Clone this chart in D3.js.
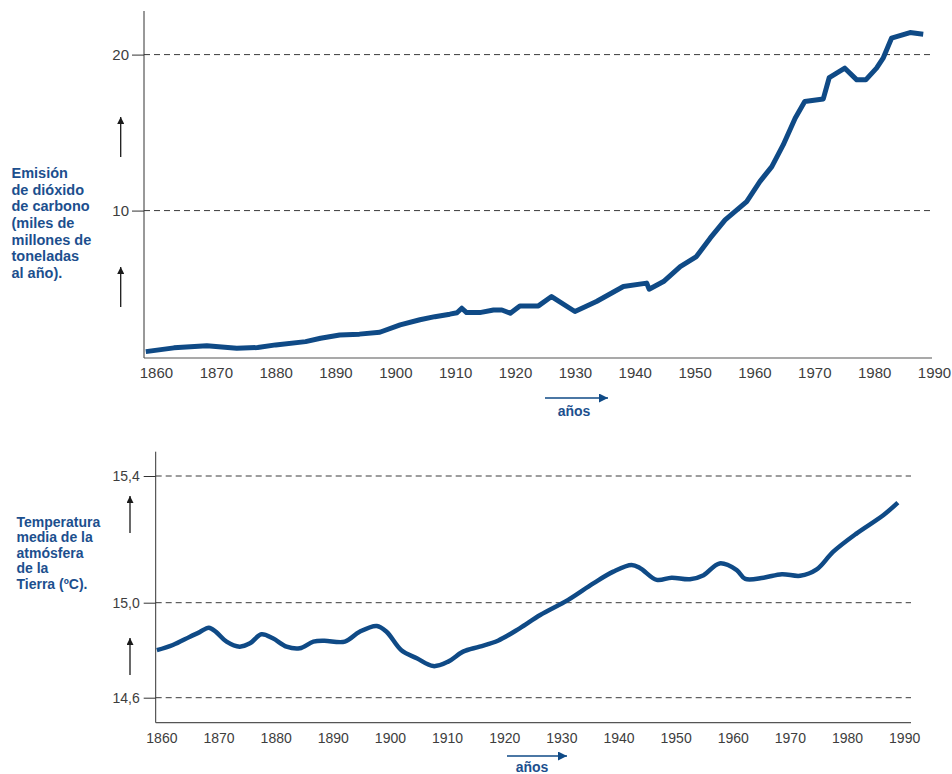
<!DOCTYPE html>
<html>
<head>
<meta charset="utf-8">
<script src="https://cdn.jsdelivr.net/npm/d3@7"></script>
<style>
  html, body { margin: 0; padding: 0; background: #ffffff; }
  svg { display: block; font-family: "Liberation Sans", Arial, Helvetica, sans-serif; }
</style>
</head>
<body>
<svg id="chart" width="952" height="774"></svg>
<script>
// ---------- DATA ----------
const co2Years = [1858.3, 1863, 1868.5, 1873.5, 1877, 1880, 1885, 1887.5, 1890.7, 1894, 1897.4, 1900.8, 1904.1, 1906.6, 1909.1, 1910.3, 1911.1, 1911.9, 1914.1, 1916.4, 1917.8, 1919.2, 1920.8, 1923.9, 1926.1, 1930, 1933.6, 1938.1, 1942, 1942.4, 1944.8, 1947.6, 1950.3, 1952.6, 1955.1, 1958.7, 1960.9, 1962.9, 1964.8, 1966.8, 1968.4, 1971.5, 1972.5, 1975.1, 1977.1, 1978.6, 1980.4, 1981.5, 1982.9, 1986, 1988.2];
const co2Values = [0.96, 1.2, 1.33, 1.18, 1.22, 1.39, 1.6, 1.82, 2.03, 2.08, 2.2, 2.67, 3.0, 3.2, 3.36, 3.45, 3.74, 3.46, 3.46, 3.63, 3.63, 3.42, 3.89, 3.89, 4.49, 3.53, 4.17, 5.13, 5.35, 4.96, 5.45, 6.41, 7.05, 8.23, 9.4, 10.58, 11.86, 12.82, 14.21, 15.92, 16.99, 17.16, 18.53, 19.13, 18.38, 18.38, 19.13, 19.77, 21.05, 21.41, 21.31];

const tempYears = [1859.2, 1862, 1865, 1866.7, 1868.3, 1869.6, 1871.4, 1873.7, 1875.5, 1877.5, 1879.5, 1881.9, 1884.2, 1886.6, 1888.5, 1892.1, 1894.7, 1897.7, 1899.4, 1902, 1904.7, 1907.6, 1910.2, 1912.8, 1915.7, 1918.9, 1922.7, 1926.3, 1931.2, 1935.6, 1939.1, 1942.3, 1943.8, 1946.7, 1949.3, 1952.5, 1954.9, 1957.7, 1960.7, 1962.2, 1965.4, 1968.6, 1971.8, 1974.7, 1977.6, 1981.7, 1986.4, 1988.9];
const tempValues = [14.80, 14.822, 14.857, 14.876, 14.895, 14.876, 14.836, 14.815, 14.829, 14.867, 14.85, 14.815, 14.808, 14.836, 14.84, 14.836, 14.878, 14.902, 14.878, 14.80, 14.766, 14.733, 14.752, 14.794, 14.815, 14.84, 14.892, 14.948, 15.009, 15.061, 15.098, 15.119, 15.109, 15.072, 15.079, 15.074, 15.087, 15.124, 15.103, 15.075, 15.079, 15.09, 15.085, 15.105, 15.161, 15.219, 15.277, 15.316];

const yearTicks = [1860, 1870, 1880, 1890, 1900, 1910, 1920, 1930, 1940, 1950, 1960, 1970, 1980, 1990];
const co2Ticks = [10, 20];
const co2TickLabels = ["10", "20"];
const tempTicks = [14.6, 15.0, 15.4];
const tempTickLabels = ["14,6", "15,0", "15,4"];

const co2Label = ["Emisión", "de dióxido", "de carbono", "(miles de", "millones de", "toneladas", "al año)."];
const tempLabel = ["Temperatura", "media de la", "atmósfera", "de la", "Tierra (ºC)."];
const xLabel = "años";

// ---------- STYLE ----------
const LINE_BLUE = "#0f4a86";
const TEXT_BLUE = "#1c4f8e";
const TICK_GREY = "#3d3d3d";

const svg = d3.select("#chart");

// arrow markers
const defs = svg.append("defs");
defs.append("marker").attr("id", "headDark")
  .attr("viewBox", "0 0 10 10").attr("refX", 10).attr("refY", 5)
  .attr("markerWidth", 7).attr("markerHeight", 7).attr("markerUnits", "userSpaceOnUse")
  .attr("orient", "auto")
  .append("path").attr("d", "M0,0 L10,5 L0,10 Z").attr("fill", "#1a1a1a");
defs.append("marker").attr("id", "headBlue")
  .attr("viewBox", "0 0 10 10").attr("refX", 10).attr("refY", 5)
  .attr("markerWidth", 9).attr("markerHeight", 9).attr("markerUnits", "userSpaceOnUse")
  .attr("orient", "auto")
  .append("path").attr("d", "M0,0 L10,5 L0,10 Z").attr("fill", LINE_BLUE);

function drawPanel(cfg) {
  const g = svg.append("g");
  const x = cfg.x, y = cfg.y;

  // dashed gridlines
  g.selectAll(".grid").data(cfg.ticks).enter().append("line")
    .attr("x1", cfg.axisX).attr("x2", cfg.gridEnd)
    .attr("y1", d => y(d)).attr("y2", d => y(d))
    .attr("stroke", "#3a3a3a").attr("stroke-width", 1)
    .attr("stroke-dasharray", "6,4");

  // y axis
  const yAxis = d3.axisLeft(y).tickValues(cfg.ticks)
    .tickFormat((d, i) => cfg.tickLabels[i])
    .tickSizeInner(cfg.tickSize).tickSizeOuter(0).tickPadding(cfg.yPad);
  const ya = g.append("g").attr("transform", `translate(${cfg.axisX},0)`).call(yAxis);
  ya.select(".domain").remove();
  ya.selectAll(".tick line").attr("stroke", "#333");
  ya.selectAll(".tick text").attr("fill", TICK_GREY).style("font-size", cfg.yFont + "px")
    .style("font-family", "'Liberation Sans', Arial, sans-serif");
  g.append("line").attr("x1", cfg.axisX).attr("x2", cfg.axisX)
    .attr("y1", cfg.axisTop).attr("y2", cfg.axisBottom)
    .attr("stroke", "#333").attr("stroke-width", 1);

  // x axis
  const xAxis = d3.axisBottom(x).tickValues(yearTicks).tickFormat(d3.format("d"))
    .tickSize(0).tickPadding(cfg.xPad);
  const xa = g.append("g").attr("transform", `translate(0,${cfg.axisBottom})`).call(xAxis);
  xa.select(".domain").remove();
  xa.selectAll(".tick text").attr("fill", TICK_GREY).style("font-size", cfg.xFont + "px")
    .style("font-family", "'Liberation Sans', Arial, sans-serif");
  g.append("line").attr("x1", cfg.axisX).attr("x2", cfg.gridEnd)
    .attr("y1", cfg.axisBottom).attr("y2", cfg.axisBottom)
    .attr("stroke", "#555").attr("stroke-width", 1.2);

  // data line
  const pts = cfg.years.map((yr, i) => [yr, cfg.values[i]]);
  const line = d3.line().x(d => x(d[0])).y(d => y(d[1])).curve(cfg.curve);
  g.append("path").attr("d", line(pts))
    .attr("fill", "none").attr("stroke", LINE_BLUE)
    .attr("stroke-width", cfg.lineWidth)
    .attr("stroke-linejoin", "round").attr("stroke-linecap", "butt");

  // side label
  const t = g.append("text").attr("x", cfg.labelX).attr("y", cfg.labelY)
    .attr("fill", TEXT_BLUE).style("font-weight", "bold").style("font-size", cfg.labelFont + "px");
  cfg.label.forEach((s, i) => {
    t.append("tspan").attr("x", cfg.labelX).attr("y", cfg.labelY + i * cfg.labelStep).text(s);
  });

  // vertical arrows
  cfg.arrows.forEach(a => {
    g.append("line").attr("x1", cfg.arrowX).attr("x2", cfg.arrowX)
      .attr("y1", a[0]).attr("y2", a[1])
      .attr("stroke", "#1a1a1a").attr("stroke-width", 1.3)
      .attr("marker-end", "url(#headDark)");
  });

  // años arrow + label
  g.append("line").attr("x1", cfg.anosX1).attr("x2", cfg.anosX2)
    .attr("y1", cfg.anosY).attr("y2", cfg.anosY)
    .attr("stroke", LINE_BLUE).attr("stroke-width", 1.6)
    .attr("marker-end", "url(#headBlue)");
  g.append("text").attr("x", cfg.anosTextX).attr("y", cfg.anosTextY)
    .attr("text-anchor", "middle").attr("fill", TEXT_BLUE)
    .style("font-weight", "bold").style("font-size", "14px").text(xLabel);
}

// Top panel: CO2 emissions
const xTop = d3.scaleLinear().domain([1858, 1990]).range([144, 934]);
const yTop = d3.scaleLinear().domain([0.55, 20]).range([358, 54.6]);
drawPanel({
  x: xTop, y: yTop, years: co2Years, values: co2Values,
  ticks: co2Ticks, tickLabels: co2TickLabels,
  axisX: 144, axisTop: 11, axisBottom: 358, gridEnd: 932,
  tickSize: 12, yPad: 3, yFont: 15, xPad: 9.5, xFont: 15,
  curve: d3.curveLinear, lineWidth: 5,
  label: co2Label, labelX: 11.5, labelY: 178, labelStep: 16.67, labelFont: 14.5,
  arrowX: 120.7, arrows: [[157, 117], [307, 267]],
  anosX1: 545, anosX2: 608, anosY: 398, anosTextX: 574, anosTextY: 416
});

// Bottom panel: temperature (non-uniform vertical scale as in original)
const xBot = d3.scaleLinear().domain([1859, 1991.2]).range([155.7, 911]);
const yBot = d3.scaleLinear().domain([14.6, 15.0, 15.4]).range([697.7, 602.7, 476]);
drawPanel({
  x: xBot, y: yBot, years: tempYears, values: tempValues,
  ticks: tempTicks, tickLabels: tempTickLabels,
  axisX: 155.7, axisTop: 451.7, axisBottom: 722.7, gridEnd: 911,
  tickSize: 12, yPad: 4, yFont: 14, xPad: 10.4, xFont: 14,
  curve: d3.curveCatmullRom.alpha(0.5), lineWidth: 4.5,
  label: tempLabel, labelX: 16.5, labelY: 526.5, labelStep: 15.6, labelFont: 14,
  arrowX: 130, arrows: [[533, 496], [675, 638]],
  anosX1: 507, anosX2: 567, anosY: 756, anosTextX: 532, anosTextY: 772
});
</script>
</body>
</html>
